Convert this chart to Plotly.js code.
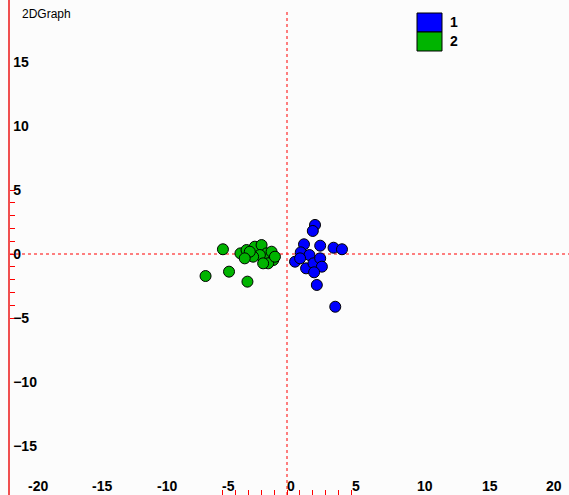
<!DOCTYPE html>
<html>
<head>
<meta charset="utf-8">
<script src="https://cdn.plot.ly/plotly-3.0.1.min.js"></script>
<style>html,body{margin:0;padding:0;background:#fcfcfc;}#chart{width:569px;height:495px;}</style>
</head>
<body>
<div id="chart"></div>
<script>
// Series 1 (blue)
const s1x = [2.16, 1.99, 1.31, 2.56, 3.59, 4.24, 1.06, 1.73, 0.62, 1.01, 1.47, 2.04, 2.56, 2.69, 2.09, 2.30, 3.72];
const s1y = [2.27, 1.80, 0.76, 0.65, 0.49, 0.37, 0.13, -0.08, -0.60, -0.34, -1.12, -0.73, -0.34, -0.99, -1.43, -2.42, -4.12];
// Series 2 (green)
const s2x = [-4.94, -6.28, -4.47, -3.05, -3.59, -3.12, -2.48, -1.96, -1.57, -1.19, -1.06, -1.45, -2.09, -2.61, -1.84, -0.93, -2.87, -3.26];
const s2y = [0.37, -1.72, -1.38, -2.16, 0.05, 0.31, 0.57, 0.70, 0.05, 0.18, -0.47, -0.73, -0.08, -0.21, -0.73, -0.21, 0.18, -0.34];
const seriesNames = ["1", "2"];
const seriesColors = ["#0000ff", "#00b400"];
const xTickVals = [-20, -15, -10, -5, 0, 5, 10, 15, 20];
const yTickVals = [-15, -10, -5, 0, 5, 10, 15];
const minorTickVals = [-5, -4, -3, -2, -1, 0, 1, 2, 3, 4, 5];
const chartTitle = "2DGraph";

const W = 569, H = 495, ML = 10;
const px = p => (p - ML) / (W - ML);
const py = p => 1 - p / H;

const mk = c => ({size: 11, color: c, line: {color: "#000", width: 1}});
const traces = [
  {x: s2x, y: s2y, mode: "markers", type: "scatter", name: seriesNames[1], marker: mk(seriesColors[1])},
  {x: s1x, y: s1y, mode: "markers", type: "scatter", name: seriesNames[0], marker: mk(seriesColors[0])}
];

const labelFont = {family: "Liberation Sans, Arial, sans-serif", size: 14, color: "#000", weight: "bold"};
const annotations = xTickVals.map(v => ({
  x: v, xref: "x", y: 0, yref: "paper", yanchor: "bottom", xanchor: "left",
  text: "<b>" + v + "</b>", showarrow: false, font: labelFont, xshift: -2, yshift: -1
}));
annotations.push({x: px(20), xref: "paper", y: py(14), yref: "paper", xanchor: "left", yanchor: "middle",
  text: chartTitle, showarrow: false, font: {family: "Liberation Sans, Arial, sans-serif", size: 12, color: "#000"}});
const shapes = [
  {type: "line", layer: "below", xref: "x", x0: 0, x1: 0, yref: "paper", y0: 0, y1: py(10), line: {color: "#ff0000", width: 1, dash: "3px,3px"}},
  {type: "line", layer: "below", xref: "paper", x0: 0, x1: 1, yref: "y", y0: 0, y1: 0, line: {color: "#ff0000", width: 1, dash: "3px,3px"}}
];
seriesNames.forEach((n, i) => {
  const top = 13 + i * 19, bot = top + 19;
  shapes.push({type: "rect", xref: "paper", yref: "paper", x0: px(417), x1: px(442), y0: py(bot), y1: py(top),
    fillcolor: seriesColors[i], line: {color: "#000", width: 1}});
  annotations.push({x: px(448), xref: "paper", y: py((top + bot) / 2), yref: "paper", xanchor: "left", yanchor: "middle",
    text: "<b>" + n + "</b>", showarrow: false, font: labelFont});
});

const layout = {
  width: W, height: H,
  margin: {l: ML, r: 0, t: 0, b: 0, pad: 0},
  paper_bgcolor: "#fcfcfc", plot_bgcolor: "#fcfcfc",
  showlegend: false,
  xaxis: {range: [-277 / 12.97, 282 / 12.97], showgrid: false, zeroline: false, showline: false,
    tickmode: "array", tickvals: xTickVals, showticklabels: false, ticks: "",
    minor: {tickmode: "array", tickvals: minorTickVals, ticks: "inside", ticklen: 5, tickcolor: "#ff0000", tickwidth: 1, showgrid: false}},
  yaxis: {range: [-241 / 12.8, 254 / 12.8], showgrid: false, zeroline: false, showline: true, linecolor: "#f05050", linewidth: 2,
    tickmode: "array", tickvals: yTickVals, ticks: "", ticklabelposition: "inside", ticklabelstandoff: 3, tickfont: labelFont,
    minor: {tickmode: "array", tickvals: minorTickVals, ticks: "inside", ticklen: 5, tickcolor: "#ff0000", tickwidth: 1, showgrid: false}},
  annotations: annotations, shapes: shapes
};
Plotly.newPlot("chart", traces, layout, {staticPlot: true});
</script>
</body>
</html>
